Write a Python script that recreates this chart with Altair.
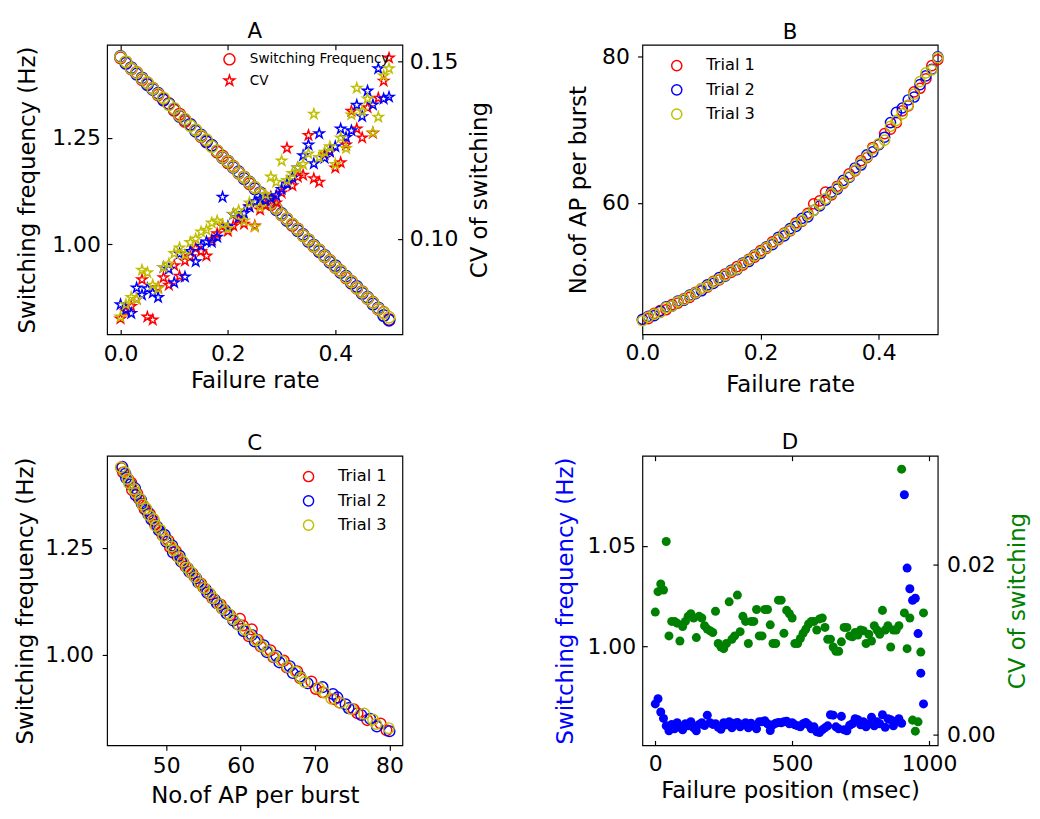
import altair as alt
import pandas as pd

FONT = "DejaVu Sans"
TRIALS = ["Trial 1", "Trial 2", "Trial 3"]
TRIAL_COLORS = ["#ff0000", "#0000ff", "#bfbf00"]

rates = [0.00, 0.01, 0.02, 0.03, 0.04, 0.05, 0.06, 0.07, 0.08, 0.09,
         0.10, 0.11, 0.12, 0.13, 0.14, 0.15, 0.16, 0.17, 0.18, 0.19,
         0.20, 0.21, 0.22, 0.23, 0.24, 0.25, 0.26, 0.27, 0.28, 0.29,
         0.30, 0.31, 0.32, 0.33, 0.34, 0.35, 0.36, 0.37, 0.38, 0.39,
         0.40, 0.41, 0.42, 0.43, 0.44, 0.45, 0.46, 0.47, 0.48, 0.49, 0.50]

freq_t1 = [1.437, 1.427, 1.411, 1.403, 1.386, 1.378, 1.366, 1.350, 1.341, 1.330,
           1.314, 1.305, 1.288, 1.280, 1.268, 1.252, 1.243, 1.231, 1.216, 1.207,
           1.191, 1.183, 1.167, 1.158, 1.142, 1.133, 1.118, 1.109, 1.093, 1.085,
           1.069, 1.060, 1.044, 1.036, 1.020, 1.011, 0.995, 0.987, 0.971, 0.962,
           0.946, 0.938, 0.921, 0.913, 0.897, 0.889, 0.873, 0.864, 0.848, 0.840, 0.824]
freq_t2 = [1.440, 1.424, 1.414, 1.399, 1.390, 1.374, 1.363, 1.354, 1.338, 1.329,
           1.317, 1.300, 1.292, 1.281, 1.265, 1.256, 1.240, 1.232, 1.219, 1.203,
           1.195, 1.180, 1.170, 1.154, 1.146, 1.130, 1.121, 1.105, 1.097, 1.081,
           1.072, 1.056, 1.047, 1.032, 1.023, 1.007, 0.998, 0.983, 0.974, 0.958,
           0.950, 0.934, 0.925, 0.909, 0.901, 0.885, 0.876, 0.860, 0.851, 0.833, 0.822]
freq_t3 = [1.439, 1.428, 1.412, 1.402, 1.388, 1.379, 1.365, 1.352, 1.343, 1.327,
           1.318, 1.302, 1.293, 1.278, 1.268, 1.254, 1.245, 1.229, 1.219, 1.204,
           1.194, 1.182, 1.168, 1.157, 1.145, 1.133, 1.119, 1.108, 1.096, 1.084,
           1.070, 1.059, 1.047, 1.035, 1.021, 1.010, 0.996, 0.986, 0.972, 0.961,
           0.947, 0.937, 0.923, 0.912, 0.898, 0.888, 0.874, 0.863, 0.849, 0.839, 0.829]

ap_t1 = [44.0, 44.2, 44.9, 45.3, 45.4, 46.1, 46.3, 46.9, 47.1, 47.8,
         48.3, 48.5, 49.3, 49.5, 50.3, 50.5, 51.3, 51.5, 52.3, 52.6,
         53.5, 53.8, 54.7, 55.0, 55.9, 56.2, 57.3, 57.5, 58.6, 59.9,
         60.3, 61.5, 61.1, 62.3, 62.7, 64.0, 64.4, 65.8, 66.2, 67.6,
         68.0, 69.5, 70.1, 71.0, 72.6, 73.3, 75.2, 75.7, 77.0, 78.8, 79.6]
ap_t2 = [44.1, 44.5, 44.6, 45.2, 45.8, 45.9, 46.6, 46.7, 47.4, 47.6,
         48.0, 48.8, 49.0, 49.8, 50.0, 50.8, 50.9, 51.8, 52.0, 52.9,
         53.1, 54.0, 54.3, 55.3, 55.5, 56.5, 56.8, 57.9, 58.1, 59.0,
         59.6, 60.4, 61.5, 61.9, 63.1, 63.5, 64.8, 65.2, 66.6, 67.0,
         68.0, 69.0, 71.0, 72.4, 73.0, 74.1, 74.5, 76.2, 77.4, 78.3, 80.0]
ap_t3 = [43.9, 44.4, 44.8, 45.0, 45.7, 45.9, 46.5, 46.8, 47.3, 47.7,
         48.3, 48.6, 49.2, 49.6, 50.1, 50.7, 51.0, 51.7, 52.2, 52.8,
         53.3, 53.9, 54.5, 55.1, 55.8, 56.3, 57.1, 57.6, 58.4, 59.0,
         59.8, 60.6, 61.3, 62.1, 62.8, 63.6, 64.5, 65.5, 66.3, 67.4,
         68.1, 68.6, 70.5, 71.3, 72.2, 73.4, 74.9, 76.6, 77.8, 78.2, 79.9]

cv_t1 = [0.0775, 0.0795, 0.0810, 0.0830, 0.0885, 0.0780, 0.0772, 0.0863, 0.0891, 0.0870,
         0.0925, 0.0895, 0.0938, 0.0950, 0.0973, 0.0965, 0.0952, 0.0998, 0.1015, 0.1037,
         0.1022, 0.1037, 0.1055, 0.1042, 0.1092, 0.1037, 0.1082, 0.1095, 0.1118, 0.1102,
         0.1130, 0.1256, 0.1150, 0.1175, 0.1180, 0.1292, 0.1170, 0.1160, 0.1238, 0.1245,
         0.1200, 0.1215, 0.1265, 0.1360, 0.1310, 0.1285, 0.1370, 0.1298, 0.1397, 0.1445, 0.1510]
cv_t2 = [0.0815, 0.0800, 0.0790, 0.0862, 0.0842, 0.0860, 0.0848, 0.0835, 0.0920, 0.0915,
         0.0877, 0.0958, 0.0893, 0.0965, 0.0936, 0.0980, 0.0992, 0.0991, 0.1005, 0.1118,
         0.1035, 0.1069, 0.1060, 0.1072, 0.1090, 0.1105, 0.1112, 0.1108, 0.1115, 0.1122,
         0.1140, 0.1155, 0.1172, 0.1200, 0.1235, 0.1265, 0.1212, 0.1297, 0.1228, 0.1246,
         0.1260, 0.1310, 0.1286, 0.1305, 0.1377, 0.1345, 0.1417, 0.1378, 0.1480, 0.1395, 0.1400]
cv_t3 = [0.0780, 0.0815, 0.0835, 0.0830, 0.0912, 0.0905, 0.0870, 0.0860, 0.0920, 0.0930,
         0.0959, 0.0975, 0.0955, 0.0990, 0.1000, 0.1020, 0.1025, 0.1045, 0.1051, 0.1040,
         0.1030, 0.1070, 0.1080, 0.1051, 0.1102, 0.1034, 0.1090, 0.1125, 0.1175, 0.1160,
         0.1220, 0.1165, 0.1185, 0.1200, 0.1210, 0.1240, 0.1352, 0.1230, 0.1245, 0.1260,
         0.1210, 0.1285, 0.1255, 0.1350, 0.1425, 0.1360, 0.1395, 0.1300, 0.1343, 0.1460, 0.1480]

positions = [0, 10, 20, 30, 40, 50, 60, 70, 80, 90,
             100, 110, 120, 130, 140, 150, 160, 170, 180, 190,
             200, 210, 220, 230, 240, 250, 260, 270, 280, 290,
             300, 310, 320, 330, 340, 350, 360, 370, 380, 390,
             400, 410, 420, 430, 440, 450, 460, 470, 480, 490,
             500, 510, 520, 530, 540, 550, 560, 570, 580, 590,
             600, 610, 620, 630, 640, 650, 660, 670, 680, 690,
             700, 710, 720, 730, 740, 750, 760, 770, 780, 790,
             800, 810, 820, 830, 840, 850, 860, 870, 880, 890,
             900, 910, 920, 930, 940, 950, 960, 970, 980]
pos_freq = [0.9714, 0.9740, 0.9674, 0.9642, 0.9605, 0.9580, 0.9612, 0.9590, 0.9620, 0.9598,
            0.9585, 0.9615, 0.9605, 0.9625, 0.9595, 0.9580, 0.9612, 0.9620, 0.9606, 0.9658,
            0.9620, 0.9612, 0.9615, 0.9598, 0.9588, 0.9620, 0.9610, 0.9625, 0.9595, 0.9618,
            0.9622, 0.9600, 0.9612, 0.9620, 0.9595, 0.9618, 0.9605, 0.9590, 0.9625, 0.9625,
            0.9630, 0.9615, 0.9582, 0.9610, 0.9618, 0.9622, 0.9620, 0.9625, 0.9628, 0.9615,
            0.9620, 0.9610, 0.9605, 0.9600, 0.9615, 0.9622, 0.9610, 0.9590, 0.9600, 0.9575,
            0.9572, 0.9585, 0.9595, 0.9605, 0.9660, 0.9658, 0.9600, 0.9590, 0.9652, 0.9585,
            0.9580, 0.9608, 0.9615, 0.9640, 0.9635, 0.9610, 0.9625, 0.9600, 0.9615, 0.9648,
            0.9605, 0.9625, 0.9615, 0.9660, 0.9598, 0.9640, 0.9635, 0.9605, 0.9628, 0.9640,
            0.9618, 1.0755, 1.0390, 1.0287, 1.0230, 1.0240, 1.0064, 0.9867, 0.9714]
pos_cv = [0.0144, 0.0168, 0.0177, 0.0170, 0.0227, 0.0116, 0.0133, 0.0133, 0.0131, 0.0110,
          0.0127, 0.0133, 0.0139, 0.0142, 0.0137, 0.0114, 0.0139, 0.0137, 0.0128, 0.0124,
          0.0122, 0.0120, 0.0145, 0.0107, 0.0103, 0.0101, 0.0107, 0.0156, 0.0112, 0.0116,
          0.0164, 0.0121, 0.0139, 0.0133, 0.0107, 0.0133, 0.0133, 0.0147, 0.0116, 0.0116,
          0.0147, 0.0147, 0.0129, 0.0107, 0.0107, 0.0158, 0.0158, 0.0119, 0.0146, 0.0142,
          0.0137, 0.0107, 0.0107, 0.0113, 0.0119, 0.0124, 0.0130, 0.0133, 0.0133, 0.0123,
          0.0136, 0.0137, 0.0126, 0.0112, 0.0112, 0.0103, 0.0098, 0.0098, 0.0109, 0.0126,
          0.0126, 0.0116, 0.0115, 0.0120, 0.0117, 0.0123, 0.0122, 0.0107, 0.0118, 0.0110,
          0.0128, 0.0123, 0.0118, 0.0146, 0.0123, 0.0128, 0.0103, 0.0123, 0.0123, 0.0128,
          0.0312, 0.0143, 0.0101, 0.0137, 0.0017, 0.0004, 0.0015, 0.0097, 0.0143]

# ---------- tables ----------
rows = []
for t, fr, ap, cv in zip(TRIALS, [freq_t1, freq_t2, freq_t3], [ap_t1, ap_t2, ap_t3], [cv_t1, cv_t2, cv_t3]):
    for i, r in enumerate(rates):
        rows.append({"trial": t, "rate": r, "freq": fr[i], "ap": ap[i], "cv": cv[i]})
df = pd.DataFrame(rows)
dfD = pd.DataFrame({"pos": positions, "freq": pos_freq, "cv": pos_cv})

STAR = ("M0,-1L0.2245,-0.309L0.9511,-0.309L0.3633,0.118L0.5878,0.809L0,0.382"
        "L-0.5878,0.809L-0.3633,0.118L-0.9511,-0.309L-0.2245,-0.309Z")
W, H = 304, 298
LFS = 22.5   # tick label size
TFS = 23.5   # axis title size
color_scale = alt.Scale(domain=TRIALS, range=TRIAL_COLORS)


def ttl(s):
    return alt.TitleParams(s, font=FONT, fontSize=22, fontWeight="normal", frame="group",
                           offset=1, color="black")


def ax(**kw):
    base = dict(labelFontSize=LFS, titleFontSize=TFS, labelFont=FONT, titleFont=FONT,
                labelColor="black", titleFontWeight="normal", grid=False, domain=False,
                tickColor="black", tickWidth=1.2, tickSize=5, labelFlush=False,
                labelOverlap=False)
    base.update(kw)
    return alt.Axis(**base)


def top_ticks(vals):
    return ax(orient="top", values=vals, labels=False, title=None, offset=-5,
              minExtent=0, maxExtent=0, labelPadding=0)


# ---------- Panel A ----------
xA_scale = alt.Scale(domain=[-0.025, 0.525], nice=False, zero=False)
xA_axis = ax(values=[0.0, 0.2, 0.4], format=".1f", title="Failure rate",
             offset=-5, labelPadding=9, titlePadding=4, titleColor="black")
shape_scale = alt.Scale(domain=["Switching Frequency", "CV"], range=["circle", STAR])
legA = alt.Legend(title=None, orient="none", legendX=119, legendY=8, padding=0,
                  labelFontSize=13.9, labelFont=FONT, symbolSize=130, symbolStrokeColor="#ff0000",
                  symbolFillColor="transparent", symbolStrokeWidth=1.5, rowPadding=4,
                  labelOffset=14, labelColor="black")

A_freq = alt.Chart(df).transform_calculate(kind="'Switching Frequency'").mark_point(
    filled=False, size=140, strokeWidth=1.5, opacity=1
).encode(
    x=alt.X("rate:Q", scale=xA_scale, axis=xA_axis),
    y=alt.Y("freq:Q", scale=alt.Scale(domain=[0.789, 1.4675], nice=False, zero=False),
            axis=ax(values=[1.0, 1.25], format=".2f", title="Switching frequency (Hz)",
                    offset=-5, labelPadding=7, titlePadding=13, titleColor="black")),
    color=alt.Color("trial:N", scale=color_scale, legend=None),
    shape=alt.Shape("kind:N", scale=shape_scale, legend=legA),
)
A_cv = alt.Chart(df).transform_calculate(kind="'CV'").mark_point(
    filled=False, size=115, strokeWidth=1.5, opacity=1
).encode(
    x=alt.X("rate:Q", scale=xA_scale, axis=top_ticks([0.0, 0.2, 0.4])),
    y=alt.Y("cv:Q", scale=alt.Scale(domain=[0.0731, 0.1547], nice=False, zero=False),
            axis=ax(orient="right", values=[0.10, 0.15], format=".2f", title="CV of switching",
                    offset=-5, labelPadding=7, titlePadding=10, titleColor="black",
                    titleAngle=270, titleBaseline="top")),
    color=alt.Color("trial:N", scale=color_scale, legend=None),
    shape=alt.Shape("kind:N", scale=shape_scale, legend=legA),
)
A = alt.layer(A_freq, A_cv).resolve_scale(y="independent").resolve_axis(
    x="independent", y="independent").properties(width=W, height=H, title=ttl("A"))

# ---------- Panel B ----------
legT = dict(title=None, orient="none", padding=0, labelFontSize=16.7, labelFont=FONT,
            symbolSize=110, symbolStrokeWidth=1.5, rowPadding=7, labelOffset=22,
            labelColor="black", symbolType="circle")
B = alt.Chart(df).mark_point(filled=False, size=110, strokeWidth=1.5, opacity=1).encode(
    x=alt.X("rate:Q", scale=alt.Scale(domain=[0.0, 0.5], nice=False, zero=False),
            axis=ax(values=[0.0, 0.2, 0.4], format=".1f", title="Failure rate",
                    labelPadding=3, titlePadding=9, titleColor="black")),
    y=alt.Y("ap:Q", scale=alt.Scale(domain=[42.04, 81.64], nice=False, zero=False),
            axis=ax(values=[60, 80], format="d", title="No.of AP per burst",
                    labelPadding=8.5, titlePadding=11, titleColor="black")),
    color=alt.Color("trial:N", scale=color_scale,
                    legend=alt.Legend(legendX=27, legendY=13, **legT)),
).properties(width=W, height=H, title=ttl("B"))

# ---------- Panel C ----------
C = alt.Chart(df).mark_point(filled=False, size=120, strokeWidth=1.5, opacity=1).encode(
    x=alt.X("ap:Q", scale=alt.Scale(domain=[42.05, 81.74], nice=False, zero=False),
            axis=ax(values=[50, 60, 70, 80], format="d", title="No.of AP per burst",
                    labelPadding=5, titlePadding=7, titleColor="black")),
    y=alt.Y("freq:Q", scale=alt.Scale(domain=[0.789, 1.466], nice=False, zero=False),
            axis=ax(values=[1.0, 1.25], format=".2f", title="Switching frequency (Hz)",
                    labelPadding=9, titlePadding=8, titleColor="black")),
    color=alt.Color("trial:N", scale=color_scale,
                    legend=alt.Legend(legendX=199, legendY=13, **legT)),
).properties(width=W, height=H, title=ttl("C"))

# ---------- Panel D ----------
xD_scale = alt.Scale(domain=[-47, 1032], nice=False, zero=False)
xD_axis = ax(values=[0, 500, 1000], format="d", title="Failure position (msec)",
             offset=-5, labelPadding=8, titlePadding=4, titleColor="black")
D_freq = alt.Chart(dfD).mark_circle(size=86, opacity=1, color="#0000ff").encode(
    x=alt.X("pos:Q", scale=xD_scale, axis=xD_axis),
    y=alt.Y("freq:Q", scale=alt.Scale(domain=[0.9508, 1.0949], nice=False, zero=False),
            axis=ax(values=[1.00, 1.05], format=".2f", title="Switching frequency (Hz)",
                    titleColor="#0000ff", offset=-5, labelPadding=7, titlePadding=10)),
)
D_cv = alt.Chart(dfD).mark_circle(size=86, opacity=1, color="#008000").encode(
    x=alt.X("pos:Q", scale=xD_scale, axis=top_ticks([0, 500, 1000])),
    y=alt.Y("cv:Q", scale=alt.Scale(domain=[-0.00126, 0.03277], nice=False, zero=False),
            axis=ax(orient="right", values=[0.00, 0.02], format=".2f", title="CV of switching",
                    titleColor="#008000", offset=-5, labelPadding=9,
                    titlePadding=11, titleAngle=270, titleBaseline="top")),
)
D = alt.layer(D_freq, D_cv).resolve_scale(y="independent").resolve_axis(
    x="independent", y="independent").properties(width=W, height=H, title=ttl("D"))

chart = alt.concat(A, B, C, D, columns=2, spacing={"row": 35, "column": 63}).resolve_scale(
    x="independent", y="independent", color="independent", shape="independent"
).configure(
    padding={"left": 5, "top": 0, "right": 2, "bottom": 2}, font=FONT
).configure_view(stroke="black", strokeWidth=1.2).configure_legend(labelFont=FONT)

chart.save("out.html", embed_options={"renderer": "svg", "actions": False})
